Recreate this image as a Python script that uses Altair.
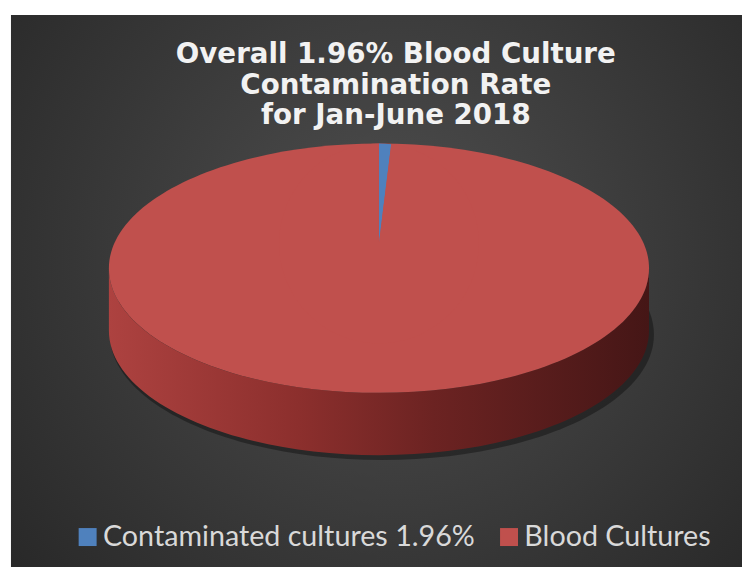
import altair as alt
import pandas as pd

# ---- data ----
categories = ["Contaminated cultures 1.96%", "Blood Cultures"]
values = [1.96, 98.04]
colors = ["#4f81bd", "#c0504d"]
title_lines = ["Overall 1.96% Blood Culture", "Contamination Rate", "for Jan-June 2018"]

# ---- layout ----
W, H = 742, 562
CX, CY = 375, 260          # centre of the pie's top face
A, B, T = 273, 126, 63     # half width, half height, thickness of the 3D look
ry, t = B / A, T / A

df = pd.DataFrame({"category": categories, "value": values,
                   "order": list(range(len(categories)))})
one = alt.InlineData(values=[{"k": 0}])

bg = alt.Chart(one).mark_rect(
    color=alt.RadialGradient(
        gradient="radial",
        stops=[alt.GradientStop(offset=0, color="#4f4f4f"),
               alt.GradientStop(offset=1, color="#242424")],
        x1=0.52, y1=0.45, r1=0, x2=0.52, y2=0.45, r2=0.75)
).encode(x=alt.value(3), x2=alt.value(W), y=alt.value(4), y2=alt.value(H))

top_path = f"M -1 0 A 1 {ry:.4f} 0 1 1 1 0 A 1 {ry:.4f} 0 1 1 -1 0 Z"
side_path = (f"M -1 0 L -1 {t:.4f} A 1 {ry:.4f} 0 0 0 1 {t:.4f} "
             f"L 1 0 A 1 {ry:.4f} 0 0 1 -1 0 Z")

shadow = alt.Chart(one).mark_point(
    shape=top_path, filled=True, color="#000000", opacity=0.35, strokeWidth=0
).encode(x=alt.value(CX + 3), y=alt.value(CY + T + 4), size=alt.value((2 * (A + 2)) ** 2))

side = alt.Chart(one).mark_point(
    shape=side_path, filled=True, opacity=1, strokeWidth=0,
    color=alt.LinearGradient(
        gradient="linear",
        stops=[alt.GradientStop(offset=0, color="#ad4240"),
               alt.GradientStop(offset=0.35, color="#8c2f2d"),
               alt.GradientStop(offset=0.6, color="#6c2322"),
               alt.GradientStop(offset=1, color="#451616")],
        x1=0, y1=0, x2=1, y2=0)
).encode(x=alt.value(CX), y=alt.value(CY), size=alt.value((2 * A) ** 2))

top = alt.Chart(one).mark_point(
    shape=top_path, filled=True, opacity=1, strokeWidth=0, color=colors[1]
).encode(x=alt.value(CX), y=alt.value(CY), size=alt.value((2 * A) ** 2))

pie = alt.Chart(df).mark_arc(outerRadius=101, strokeWidth=0).encode(
    theta=alt.Theta("value:Q", stack=True),
    order=alt.Order("order:Q"),
    color=alt.Color(
        "category:N",
        scale=alt.Scale(domain=categories, range=colors),
        legend=alt.Legend(
            title=None, orient="none", legendX=66, legendY=517,
            direction="horizontal", symbolType="square", symbolSize=330,
            symbolStrokeWidth=0, symbolOpacity=1,
            labelFont="Lato", labelFontSize=29, labelColor="#d9d9d9",
            labelOffset=1, columnPadding=19, padding=0, labelLimit=600),
    ),
    x=alt.value(CX), y=alt.value(CY - 25),
)

title = alt.Chart(one).mark_text(
    align="center", baseline="alphabetic", font="DejaVu Sans",
    fontWeight="bold", fontSize=28, lineHeight=30.5,
    color="#f2f2f2"
).encode(x=alt.value(392), y=alt.value(53), text=alt.value(title_lines))

chart = alt.layer(bg, shadow, side, top, pie, title).properties(
    width=W, height=H, padding=0, autosize="none", background="#ffffff"
).configure_view(stroke=None)

chart.save("out.html", embed_options={"renderer": "svg", "actions": False})
